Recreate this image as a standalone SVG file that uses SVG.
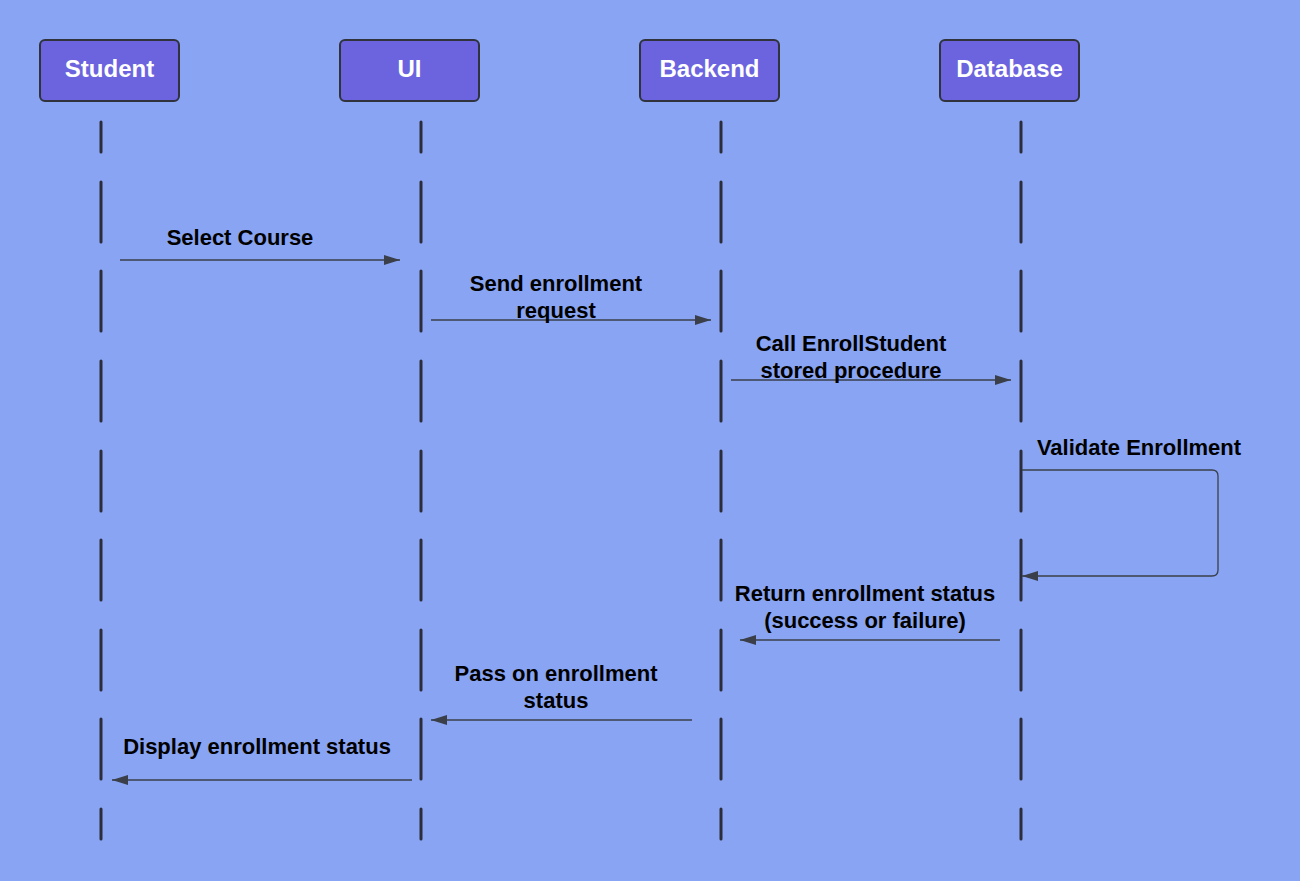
<svg xmlns="http://www.w3.org/2000/svg" width="1300" height="881" viewBox="0 0 1300 881">
<style>
.box{fill:#6c63df;stroke:#30323c;stroke-width:2}
.hd{font-family:"Liberation Sans",Arial,sans-serif;font-weight:bold;font-size:24px;fill:#ffffff;text-anchor:middle}
.life{stroke:#2b2d38;stroke-width:3;stroke-linecap:round;fill:none}
.msg{stroke:#3a3f4a;stroke-width:1.3;fill:none}
.lbl{font-family:"Liberation Sans",Arial,sans-serif;font-weight:bold;font-size:22px;fill:#000000;text-anchor:middle}
</style>
<defs>
<marker id="ah" markerWidth="16" markerHeight="10" refX="16" refY="5" orient="auto" markerUnits="userSpaceOnUse">
<path d="M0,0 L16,5 L0,10 Z" fill="#3a3f4a"/>
</marker>
</defs>
<rect width="1300" height="881" fill="#88a4f2"/>
<g id="student">
<rect class="box" x="40" y="40" width="139" height="61" rx="5"/>
<text class="hd" x="109.5" y="77">Student</text>
<path class="life" d="M101,122V152M101,182V242M101,271V331M101,361V421M101,451V511M101,540V600M101,630V690M101,719V779M101,809V839"/>
</g>
<g id="ui">
<rect class="box" x="340" y="40" width="139" height="61" rx="5"/>
<text class="hd" x="409.5" y="77">UI</text>
<path class="life" d="M421,122V152M421,182V242M421,271V331M421,361V421M421,451V511M421,540V600M421,630V690M421,719V779M421,809V839"/>
</g>
<g id="backend">
<rect class="box" x="640" y="40" width="139" height="61" rx="5"/>
<text class="hd" x="709.5" y="77">Backend</text>
<path class="life" d="M721,122V152M721,182V242M721,271V331M721,361V421M721,451V511M721,540V600M721,630V690M721,719V779M721,809V839"/>
</g>
<g id="database">
<rect class="box" x="940" y="40" width="139" height="61" rx="5"/>
<text class="hd" x="1009.5" y="77">Database</text>
<path class="life" d="M1021,122V152M1021,182V242M1021,271V331M1021,361V421M1021,451V511M1021,540V600M1021,630V690M1021,719V779M1021,809V839"/>
</g>
<g id="connectors">
<line class="msg" x1="120" y1="260" x2="400" y2="260" marker-end="url(#ah)"/>
<text class="lbl" x="240" y="245">Select Course</text>
<line class="msg" x1="431" y1="320" x2="711" y2="320" marker-end="url(#ah)"/>
<text class="lbl" x="556" y="291">Send enrollment</text>
<text class="lbl" x="556" y="318">request</text>
<line class="msg" x1="731" y1="380" x2="1011" y2="380" marker-end="url(#ah)"/>
<text class="lbl" x="851" y="351">Call EnrollStudent</text>
<text class="lbl" x="851" y="378">stored procedure</text>
<path class="msg" d="M1022,470H1212Q1218,470 1218,476V570Q1218,576 1212,576H1022" marker-end="url(#ah)"/>
<text class="lbl" x="1139" y="455">Validate Enrollment</text>
<line class="msg" x1="1000" y1="640" x2="740" y2="640" marker-end="url(#ah)"/>
<text class="lbl" x="865" y="601">Return enrollment status</text>
<text class="lbl" x="865" y="628">(success or failure)</text>
<line class="msg" x1="692" y1="720" x2="431" y2="720" marker-end="url(#ah)"/>
<text class="lbl" x="556" y="681">Pass on enrollment</text>
<text class="lbl" x="556" y="708">status</text>
<line class="msg" x1="412" y1="780" x2="112" y2="780" marker-end="url(#ah)"/>
<text class="lbl" x="257" y="754">Display enrollment status</text>
</g>
</svg>
